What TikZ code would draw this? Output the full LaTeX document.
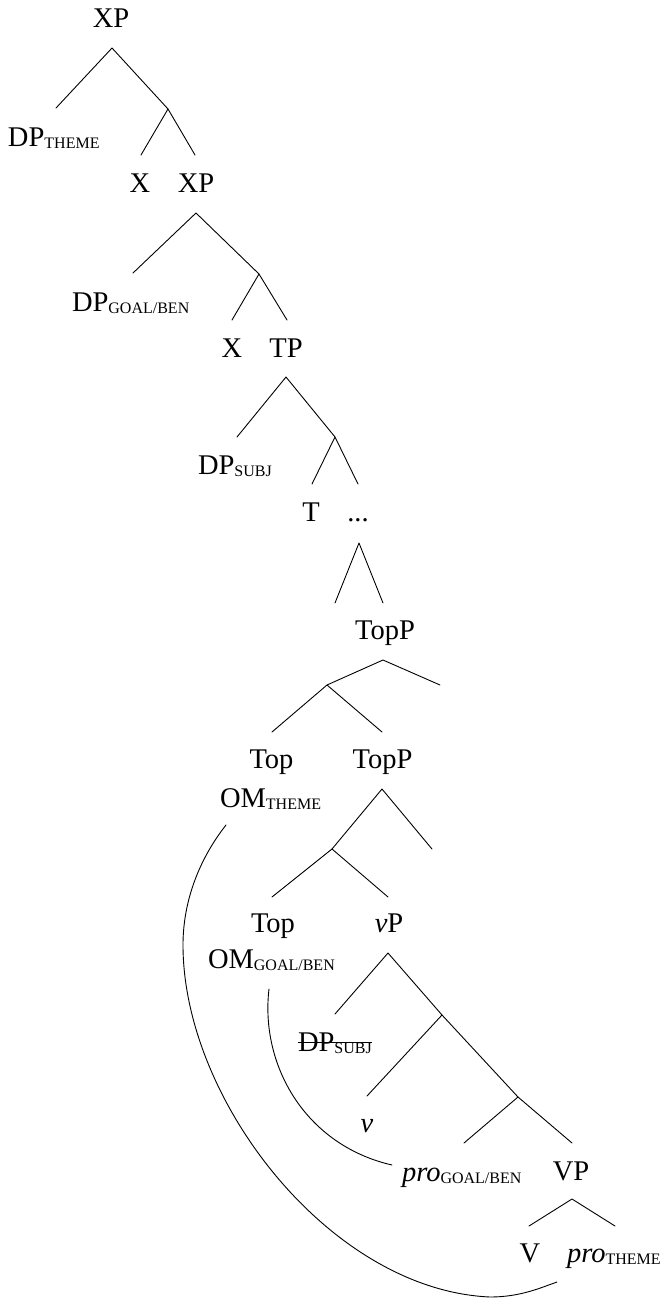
\documentclass[tikz,border=0pt]{standalone}
\usepackage{fontspec}
\setmainfont{Liberation Serif}
\newcommand{\smcsub}[1]{\raisebox{-2.5pt}{\fontsize{16}{16}\selectfont #1}}
\tikzset{
  lbl/.style={inner sep=0pt, outer sep=0pt, font=\fontsize{28.5}{30}\selectfont},
  br/.style={line width=0.9pt, line cap=round, line join=round},
}
\begin{document}
\begin{tikzpicture}[x=1pt,y=-1pt]
\useasboundingbox (0,0) rectangle (663,1298);
% ---------- labels ----------
\node[lbl,anchor=base] (xp1) at (111,28) {XP};
\node[lbl,anchor=base west] (dpth) at (8,146) {DP\smcsub{THEME}};
\node[lbl,anchor=base] (x1) at (140,192) {X};
\node[lbl,anchor=base] (xp2) at (196,192) {XP};
\node[lbl,anchor=base west] (dpgb) at (72,311) {DP\smcsub{GOAL/BEN}};
\node[lbl,anchor=base] (x2) at (232,357) {X};
\node[lbl,anchor=base] (tp) at (286,357) {TP};
\node[lbl,anchor=base west] (dps) at (198,474) {DP\smcsub{SUBJ}};
\node[lbl,anchor=base] (tnode) at (311,521) {T};
\node[lbl,anchor=base] (dots) at (358,521) {...};
\node[lbl,anchor=base] (topp1) at (385,639) {TopP};
\node[lbl,anchor=base] (top1) at (271.5,768) {Top};
\node[lbl,anchor=base] (topp2) at (382.5,768) {TopP};
\node[lbl,anchor=base west] (omth) at (220,807) {OM\smcsub{THEME}};
\node[lbl,anchor=base] (top2) at (273,932) {Top};
\node[lbl,anchor=base] (littlevp) at (389,932) {\textit{v}P};
\node[lbl,anchor=base west] (omgb) at (208,968) {OM\smcsub{GOAL/BEN}};
\node[lbl,anchor=base west] (dps2) at (298,1051) {DP\smcsub{SUBJ}};
\node[lbl,anchor=base] (littlev) at (367,1132) {\textit{v}};
\node[lbl,anchor=base west] (progb) at (402,1181) {\textit{pro}\smcsub{GOAL/BEN}};
\node[lbl,anchor=base] (bigvp) at (571,1180) {VP};
\node[lbl,anchor=base] (bigv) at (530,1262) {V};
\node[lbl,anchor=base west] (proth) at (567,1262) {\textit{pro}\smcsub{THEME}};
% strike-through of the lower DP_subj
\draw[line width=0.9pt] ([yshift=9pt]dps2.base west) -- ([yshift=9pt]dps2.base east);
% ---------- tree points ----------
\coordinate (a1) at (112,48);   \coordinate (a1l) at (56,108);  \coordinate (b1) at (168,109);
\coordinate (b1l) at (141,155); \coordinate (b1r) at (195,155);
\coordinate (a2) at (196,213);  \coordinate (a2l) at (133,273); \coordinate (b2) at (259,274);
\coordinate (b2l) at (232,320); \coordinate (b2r) at (287,320);
\coordinate (a3) at (286,377);  \coordinate (a3l) at (237,437); \coordinate (b3) at (335,437);
\coordinate (b3l) at (312,484); \coordinate (b3r) at (358,484);
\coordinate (a4) at (359,543);  \coordinate (a4l) at (335,603); \coordinate (a4r) at (383,603);
\coordinate (a5) at (383,660);  \coordinate (b5) at (327,685);  \coordinate (a5r) at (440,685);
\coordinate (b5l) at (272,732); \coordinate (b5r) at (382,732);
\coordinate (a6) at (382,789);  \coordinate (b6) at (332,849);  \coordinate (a6r) at (432,849);
\coordinate (b6l) at (272,897); \coordinate (b6r) at (388,897);
\coordinate (a7) at (388,953);  \coordinate (a7l) at (335,1014); \coordinate (b7) at (442,1015);
\coordinate (b7l) at (367,1096); \coordinate (c7) at (518,1097);
\coordinate (c7l) at (464,1143); \coordinate (c7r) at (572,1143);
\coordinate (a8) at (572,1199); \coordinate (a8l) at (529,1226); \coordinate (a8r) at (615,1226);
% ---------- branches ----------
\draw[br] (a1l) -- (a1) -- (b1);
\draw[br] (b1l) -- (b1) -- (b1r);
\draw[br] (a2l) -- (a2) -- (b2);
\draw[br] (b2l) -- (b2) -- (b2r);
\draw[br] (a3l) -- (a3) -- (b3);
\draw[br] (b3l) -- (b3) -- (b3r);
\draw[br] (a4l) -- (a4) -- (a4r);
\draw[br] (b5) -- (a5) -- (a5r);
\draw[br] (b5l) -- (b5) -- (b5r);
\draw[br] (b6) -- (a6) -- (a6r);
\draw[br] (b6l) -- (b6) -- (b6r);
\draw[br] (a7l) -- (a7) -- (b7) -- (c7) -- (c7r);
\draw[br] (b7l) -- (b7);
\draw[br] (c7l) -- (c7);
\draw[br] (a8l) -- (a8) -- (a8r);
% ---------- movement curves ----------
\coordinate (c1s) at (226,825); \coordinate (c1m) at (183,945);
\coordinate (c1b) at (490,1297); \coordinate (c1e) at (557,1282);
\draw[br] (c1s) .. controls (200,858) and (183,900) .. (c1m)
  .. controls (183,1100) and (330,1290) .. (c1b)
  .. controls (520,1297) and (540,1288) .. (c1e);
\coordinate (c2s) at (269,989); \coordinate (c2e) at (392,1165);
\draw[br] (c2s) .. controls (260,1065) and (305,1145) .. (c2e);
\end{tikzpicture}
\end{document}
